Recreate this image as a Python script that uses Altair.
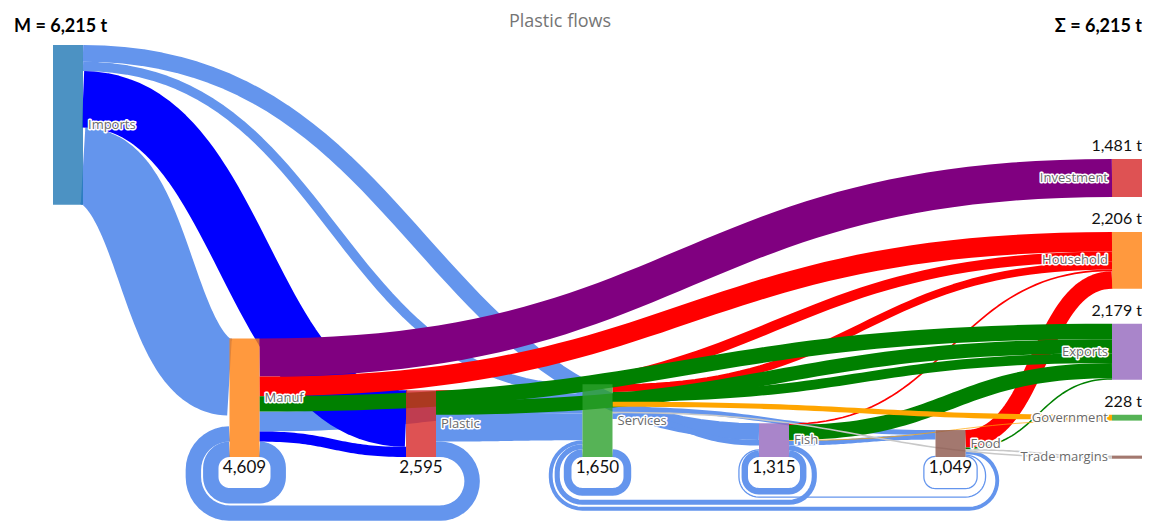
import math
import altair as alt
import pandas as pd

# ---------------- data ----------------
node_names = ["Imports", "Manuf", "Plastic", "Services", "Fish", "Food",
              "Investment", "Household", "Exports", "Government", "Trade margins"]
node_column = [0, 1, 2, 3, 4, 5, 6, 6, 6, 6, 6]

link_source = ["Imports", "Imports", "Imports", "Imports",
               "Manuf", "Manuf", "Manuf", "Manuf", "Manuf", "Manuf",
               "Plastic", "Plastic", "Plastic", "Plastic",
               "Services", "Services", "Services", "Services", "Services", "Services", "Services",
               "Fish", "Fish", "Fish", "Fish", "Fish", "Fish",
               "Food", "Food", "Food", "Food", "Food", "Food"]
link_target = ["Manuf", "Plastic", "Services", "Fish",
               "Investment", "Household", "Exports", "Services", "Plastic", "Manuf",
               "Household", "Exports", "Services", "Manuf",
               "Household", "Exports", "Government", "Trade margins", "Fish", "Food", "Services",
               "Exports", "Household", "Government", "Food", "Services", "Fish",
               "Household", "Exports", "Trade margins", "Services", "Fish", "Food"]
link_value = [3000, 2200, 365, 650,
              1481, 760, 600, 773, 395, 600,
              400, 550, 1045, 600,
              300, 380, 200, 60, 220, 190, 300,
              590, 66, 28, 181, 200, 250,
              680, 59, 61, 150, 50, 49]

title_text = "Plastic flows"

# ---------------- styles ----------------
node_colors = ["#1f77b4", "#ff7f0e", "#d62728", "#2ca02c", "#9467bd", "#8c564b",
               "#d62728", "#ff7f0e", "#9467bd", "#2ca02c", "#8c564b"]
link_color_by_target = {
    "Manuf": "#6495ed", "Services": "#6495ed", "Fish": "#6495ed", "Food": "#6495ed",
    "Plastic": "#0000ff", "Investment": "#800080", "Household": "#ff0000",
    "Exports": "#008000", "Government": "#ffa500", "Trade margins": "#c8c8c8",
}
draw_order = ["#6495ed", "#0000ff", "#800080", "#ff0000", "#008000", "#ffa500", "#c8c8c8"]

# ---------------- layout parameters ----------------
W, H = 1134, 513
K = 0.0257                      # px per tonne
COL_X0, COL_STEP, NODE_W = 45.0, 176.5, 30.0
BASE_Y = 449.0                  # bottom line of the intermediate nodes
IMPORTS_TOP = 37.0
FINAL_TOP, FINAL_GAP = 151.0, 35.0
LOOP_CLEAR, LOOP_GAP, LOOP_H = 31.0, 2.0, 20.0

idx = {n: i for i, n in enumerate(node_names)}
N = len(node_names)
vin = [0] * N
vout = [0] * N
for s, t, v in zip(link_source, link_target, link_value):
    vout[idx[s]] += v
    vin[idx[t]] += v

nx0 = [COL_X0 + c * COL_STEP for c in node_column]
nx1 = [x + NODE_W for x in nx0]
nh = [max(a, b) * K for a, b in zip(vin, vout)]
ny0 = []
cursor = FINAL_TOP
for i, c in enumerate(node_column):
    if c == 0:
        ny0.append(IMPORTS_TOP)
    elif c == 6:
        ny0.append(cursor)
        cursor += nh[i] + FINAL_GAP
    else:
        ny0.append(BASE_Y - nh[i])
ny1 = [a + b for a, b in zip(ny0, nh)]
ncy = [(a + b) / 2 for a, b in zip(ny0, ny1)]

links = []
for k, (s, t, v) in enumerate(zip(link_source, link_target, link_value)):
    si, ti = idx[s], idx[t]
    links.append(dict(id=k, s=si, t=ti, v=v, w=v * K,
                      loop=node_column[ti] <= node_column[si],
                      color=link_color_by_target[t]))

# loop depths (nested below the baseline)
loops = sorted([L for L in links if L["loop"]],
               key=lambda L: (node_column[L["s"]] - node_column[L["t"]], L["w"]))
placed = []
for L in loops:
    lo, hi = node_column[L["t"]], node_column[L["s"]]
    edge = LOOP_CLEAR
    for P in placed:
        if not (P["hi"] < lo or P["lo"] > hi):
            edge = max(edge, P["d"] + P["w"] / 2 + LOOP_GAP)
    L["d"] = edge + L["w"] / 2
    L["lo"], L["hi"] = lo, hi
    placed.append(L)


def slope(L):
    return (ncy[L["t"]] - ncy[L["s"]]) / (nx0[L["t"]] - nx1[L["s"]])


for i in range(N):
    outs_f = sorted([L for L in links if L["s"] == i and not L["loop"]], key=slope)
    y = ny0[i]
    for L in outs_f:
        L["ys"] = y + L["w"] / 2
        y += L["w"]
    outs_l = sorted([L for L in links if L["s"] == i and L["loop"]], key=lambda L: L["d"])
    y = ny1[i]
    for L in outs_l:
        L["ys"] = y - L["w"] / 2
        y -= L["w"]
    ins_f = sorted([L for L in links if L["t"] == i and not L["loop"]], key=slope, reverse=True)
    y = ny0[i]
    for L in ins_f:
        L["yt"] = y + L["w"] / 2
        y += L["w"]
    ins_l = sorted([L for L in links if L["t"] == i and L["loop"]], key=lambda L: L["d"])
    y = ny1[i]
    for L in ins_l:
        L["yt"] = y - L["w"] / 2
        y -= L["w"]


def bezier(x0, y0, x1, y1, n=48):
    xm = (x0 + x1) / 2
    pts = []
    for j in range(n + 1):
        t = j / n
        a, b, c, d = (1 - t) ** 3, 3 * (1 - t) ** 2 * t, 3 * (1 - t) * t ** 2, t ** 3
        pts.append((a * x0 + b * xm + c * xm + d * x1, a * y0 + b * y0 + c * y1 + d * y1))
    return pts


def rounded(poly, radii, n=10):
    out = [poly[0]]
    for i in range(1, len(poly) - 1):
        (px, py), (cx, cy), (qx, qy) = poly[i - 1], poly[i], poly[i + 1]
        li = math.hypot(cx - px, cy - py) or 1
        lo = math.hypot(qx - cx, qy - cy) or 1
        dinx, diny = (cx - px) / li, (cy - py) / li
        doutx, douty = (qx - cx) / lo, (qy - cy) / lo
        r = radii[i - 1]
        ax, ay = cx - dinx * r, cy - diny * r
        bx, by = cx + doutx * r, cy + douty * r
        ox, oy = ax + doutx * r, ay + douty * r
        a0 = math.atan2(ay - oy, ax - ox)
        a1 = math.atan2(by - oy, bx - ox)
        diff = (a1 - a0 + math.pi) % (2 * math.pi) - math.pi
        for j in range(n + 1):
            ang = a0 + diff * j / n
            out.append((ox + r * math.cos(ang), oy + r * math.sin(ang)))
    out.append(poly[-1])
    return out


rows = []
for L in links:
    xs, xe = nx1[L["s"]], nx0[L["t"]]
    if not L["loop"]:
        pts = bezier(xs, L["ys"], xe, L["yt"])
    else:
        h = max(L["d"] - LOOP_H, L["w"] / 2 + 4)
        yb = BASE_Y + L["d"]
        ys, yt = L["ys"], L["yt"]
        poly = [(xs, ys), (xs + h, ys), (xs + h, yb), (xe - h, yb), (xe - h, yt), (xe, yt)]
        L1, L2, L3 = yb - ys, (xs + h) - (xe - h), yb - yt
        radii = [min(h, L1 / 2), min(h, L1 / 2, L2 / 2), min(h, L2 / 2, L3 / 2), min(h, L3 / 2)]
        pts = rounded(poly, radii)
    for j, (x, y) in enumerate(pts):
        rows.append(dict(link=L["id"], i=j, x=x, y=y, value=L["v"], color=L["color"]))
link_df = pd.DataFrame(rows)

node_df = pd.DataFrame(dict(name=node_names, x0=nx0, x1=nx1, y0=ny0, y1=ny1, color=node_colors))

left_lab = pd.DataFrame([dict(text=node_names[i], x=nx1[i] + 5, y=ncy[i])
                         for i in range(N) if node_column[i] < 6])
right_lab = pd.DataFrame([dict(text=node_names[i], x=nx0[i] - 4, y=ncy[i])
                          for i in range(N) if node_column[i] == 6])
val_lab = pd.DataFrame([dict(text=f"{vout[i]:,}", x=(nx0[i] + nx1[i]) / 2, y=ny1[i] + 11)
                        for i in range(N) if 0 < node_column[i] < 6])
fin_lab = pd.DataFrame([dict(text=f"{vin[i]:,} t", x=nx1[i], y=ny0[i] - 13)
                        for i in range(N) if node_column[i] == 6 and vin[i] > 150])
total_m = sum(vout[i] for i in range(N) if node_column[i] == 0)
total_s = sum(vin[i] for i in range(N) if node_column[i] == 6)
head_l = pd.DataFrame([dict(text=f"M = {total_m:,} t", x=6, y=19)])
head_r = pd.DataFrame([dict(text=f"\u03a3 = {total_s:,} t", x=W, y=19)])
title_df = pd.DataFrame([dict(text=title_text, x=552, y=14)])

x_sc = alt.Scale(domain=[0, W], nice=False, zero=False)
y_sc = alt.Scale(domain=[0, H], nice=False, zero=False, reverse=True)
sw_sc = alt.Scale(domain=[0, 1000], range=[0, 1000 * K], nice=False, zero=True)

layers = []
for c in draw_order:
    layers.append(
        alt.Chart(link_df).transform_filter(alt.datum.color == c)
        .mark_line(color=c, strokeCap="butt", strokeJoin="round")
        .encode(x=alt.X("x:Q", scale=x_sc, axis=None),
                y=alt.Y("y:Q", scale=y_sc, axis=None),
                detail="link:N", order="i:Q",
                strokeWidth=alt.StrokeWidth("value:Q", scale=sw_sc, legend=None))
    )

layers.append(
    alt.Chart(node_df).mark_rect(opacity=0.8).encode(
        x=alt.X("x0:Q", scale=x_sc, axis=None), x2="x1:Q",
        y=alt.Y("y0:Q", scale=y_sc, axis=None), y2="y1:Q",
        color=alt.Color("color:N", scale=None))
)


def txt(df, align, size, color, font, weight="normal", halo=False):
    kw = dict(align=align, baseline="middle", fontSize=size, font=font, fontWeight=weight)
    enc = dict(x=alt.X("x:Q", scale=x_sc, axis=None), y=alt.Y("y:Q", scale=y_sc, axis=None),
               text="text:N")
    out = []
    if halo:
        out.append(alt.Chart(df).mark_text(color="white", stroke="white", strokeWidth=3,
                                           strokeJoin="round", **kw).encode(**enc))
    out.append(alt.Chart(df).mark_text(color=color, **kw).encode(**enc))
    return out


layers += txt(left_lab, "left", 13, "#6a6a6a", "Open Sans", halo=True)
layers += txt(right_lab, "right", 13, "#6a6a6a", "Open Sans", halo=True)
layers += txt(val_lab, "center", 17, "#111111", "Lato")
layers += txt(fin_lab, "right", 16, "#111111", "Lato")
layers += txt(head_l, "left", 18, "#000000", "Lato", weight="bold")
layers += txt(head_r, "right", 18, "#000000", "Lato", weight="bold")
layers += txt(title_df, "center", 18, "#757575", "Open Sans")

chart = alt.layer(*layers).properties(
    width=W, height=H, padding=0, autosize=alt.AutoSizeParams(type="none")
).configure_view(strokeWidth=0)

chart.save("out.html", embed_options={"renderer": "svg", "actions": False})
